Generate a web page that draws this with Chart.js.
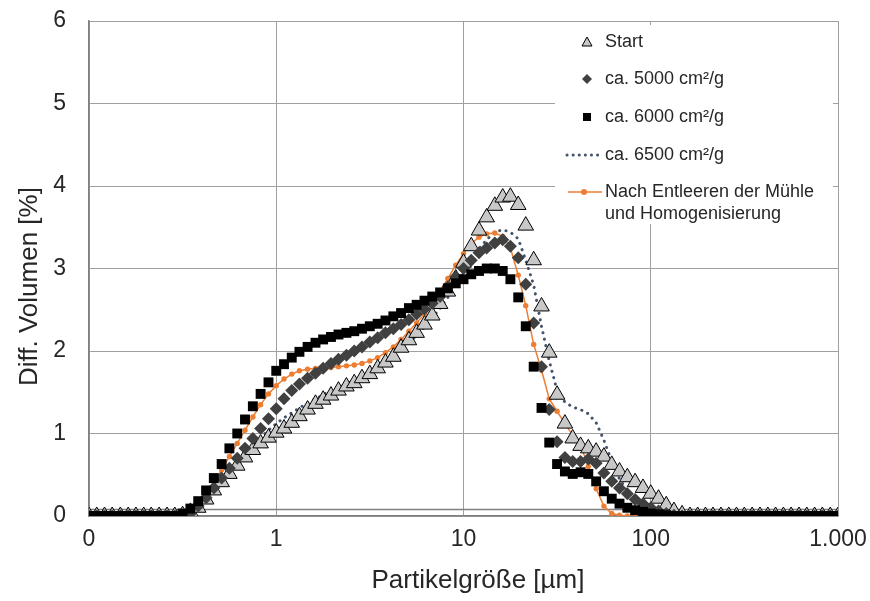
<!DOCTYPE html>
<html><head><meta charset="utf-8">
<script src="https://cdn.jsdelivr.net/npm/chart.js@4/dist/chart.umd.min.js"></script>
<style>html,body{margin:0;padding:0;background:#fff}</style>
</head><body>
<canvas id="c" width="870" height="601"></canvas>
<script>
// Particle size classes [µm]
const sizes = [0.1,0.11,0.121,0.133,0.147,0.162,0.178,0.196,0.215,0.237,0.261,0.287,0.316,0.348,0.383,0.422,0.464,0.511,0.562,0.619,0.681,0.75,0.825,0.909,1,
1.1,1.21,1.33,1.47,1.62,1.78,1.96,2.15,2.37,2.61,2.87,3.16,3.48,3.83,4.22,4.64,5.11,5.62,6.19,6.81,7.5,8.25,9.09,10,
11,12.1,13.3,14.7,16.2,17.8,19.6,21.5,23.7,26.1,28.7,31.6,34.8,38.3,42.2,46.4,51.1,56.2,61.9,68.1,75,82.5,90.9,100,
110,121,133,147,162,178,196,215,237,261,287,316,348,383,422,464,511,562,619,681,750,825,909,1000];

const startVals = [0,0,0,0,0,0,0,0,0,0,0,0,
0.01,0.05,0.10,0.20,0.31,0.41,0.51,0.61,0.71,0.80,0.88,0.95,1.01,
1.06,1.13,1.21,1.29,1.36,1.41,1.46,1.52,1.57,1.61,1.67,1.72,1.79,1.86,1.93,2.04,2.13,2.22,2.32,2.43,2.57,2.72,2.88,3.07,
3.27,3.46,3.62,3.76,3.86,3.87,3.77,3.52,3.10,2.54,1.98,1.47,1.12,0.94,0.85,0.82,0.78,0.72,0.62,0.54,0.47,0.41,0.34,0.27,
0.21,0.13,0.06,0.02,0,0,0,0,0,0,0,0,0,0,0,0,0,0,0,0,0,0,0,0];

const v5000 = [0,0,0,0,0,0,0,0,0,0,0,0,0,
0.03,0.12,0.22,0.34,0.46,0.58,0.70,0.82,0.94,1.06,1.18,1.30,
1.42,1.52,1.60,1.67,1.73,1.79,1.85,1.90,1.95,2.00,2.05,2.11,2.16,2.22,2.27,2.32,2.38,2.45,2.51,2.58,2.66,2.78,2.90,3.00,
3.10,3.19,3.25,3.31,3.35,3.27,3.13,2.81,2.34,1.81,1.29,0.90,0.71,0.66,0.66,0.69,0.64,0.52,0.42,0.34,0.27,0.20,0.15,0.10,
0.06,0.03,0.01,0,0,0,0,0,0,0,0,0,0,0,0,0,0,0,0,0,0,0,0,0];

const v6000 = [0,0,0,0,0,0,0,0,0,0,0,0,
0.03,0.09,0.18,0.31,0.46,0.63,0.82,1.00,1.17,1.33,1.48,1.62,1.76,
1.84,1.92,1.99,2.05,2.10,2.14,2.17,2.20,2.22,2.24,2.27,2.30,2.33,2.37,2.42,2.46,2.52,2.56,2.61,2.66,2.71,2.76,2.82,2.87,
2.93,2.97,3.00,3.00,2.97,2.87,2.65,2.30,1.81,1.31,0.89,0.63,0.54,0.51,0.53,0.51,0.42,0.30,0.21,0.15,0.10,0.07,0.05,0.03,
0.02,0.01,0,0,0,0,0,0,0,0,0,0,0,0,0,0,0,0,0,0,0,0,0,0];

const v6500 = [0,0,0,0,0,0,0,0,0,0,0,0,0,
0.03,0.11,0.21,0.32,0.43,0.54,0.65,0.76,0.86,0.95,1.04,1.12,
1.19,1.25,1.31,1.37,1.42,1.47,1.52,1.56,1.60,1.65,1.70,1.75,1.81,1.87,1.94,2.02,2.10,2.19,2.29,2.40,2.52,2.65,2.80,2.95,
3.10,3.24,3.35,3.44,3.47,3.44,3.36,3.10,2.80,2.30,1.88,1.52,1.38,1.32,1.29,1.24,1.13,0.92,0.66,0.45,0.30,0.18,0.10,0.05,
0.02,0,0,0,0,0,0,0,0,0,0,0,0,0,0,0,0,0,0,0,0,0,0,0];

const vNach = [0,0,0,0,0,0,0,0,0,0,0,0,
0.01,0.06,0.15,0.27,0.41,0.56,0.72,0.88,1.04,1.20,1.35,1.48,1.58,
1.66,1.72,1.76,1.78,1.79,1.80,1.80,1.81,1.82,1.83,1.85,1.88,1.92,1.98,2.05,2.14,2.24,2.34,2.45,2.57,2.72,2.88,3.04,3.18,
3.30,3.38,3.42,3.43,3.39,3.25,2.92,2.55,2.08,1.77,1.42,1.27,1.12,0.98,0.86,0.60,0.33,0.12,0.03,0.01,0,0,0,0,
0,0,0,0,0,0,0,0,0,0,0,0,0,0,0,0,0,0,0,0,0,0,0,0];

const seriesNames = ['Start','ca. 5000 cm²/g','ca. 6000 cm²/g','ca. 6500 cm²/g','Nach Entleeren der Mühle und Homogenisierung'];
const legendLines = [['Start'],['ca. 5000 cm²/g'],['ca. 6000 cm²/g'],['ca. 6500 cm²/g'],['Nach Entleeren der Mühle','und Homogenisierung']];
const xTickValues = [0.1,1,10,100,1000];
const xTickLabels = ['0','1','10','100','1.000'];
const yTickValues = [0,1,2,3,4,5,6];
const xTitle = '    Partikelgröße [µm]';
const yTitle = 'Diff. Volumen [%]     ';
const refLineValue = 0.09;

const FONT = '"Liberation Sans", Arial, Helvetica, sans-serif';
const TXT = '#262626';
function pts(vals){ return vals.map((v,i)=>({x:sizes[i], y:v})); }

const refLinePlugin = {
  id:'refLine',
  beforeDatasetsDraw(chart){
    const {ctx, chartArea:a, scales:{y}} = chart;
    const py = Math.round(y.getPixelForValue(refLineValue)) + 0.5;
    ctx.save();
    ctx.strokeStyle = '#7f7f7f'; ctx.lineWidth = 1.5;
    ctx.beginPath(); ctx.moveTo(a.left, py); ctx.lineTo(a.right, py); ctx.stroke();
    ctx.restore();
  }
};

const legendPlugin = {
  id:'customLegend',
  afterDraw(chart){
    const ctx = chart.ctx;
    const a = chart.chartArea;
    const L = a.right - 283, T = a.top + 4;
    ctx.save();
    ctx.fillStyle = '#fff';
    ctx.fillRect(L, T, 278, 199);
    const mx = L + 32, tx = L + 50;
    const rows = [T+17, T+54, T+92, T+130, T+167];
    let y = rows[0];
    ctx.fillStyle = '#c8c8c8'; ctx.strokeStyle = '#000'; ctx.lineWidth = 1;
    ctx.beginPath(); ctx.moveTo(mx, y-5); ctx.lineTo(mx+5, y+4); ctx.lineTo(mx-5, y+4); ctx.closePath(); ctx.fill(); ctx.stroke();
    y = rows[1];
    ctx.fillStyle = '#404040';
    ctx.beginPath(); ctx.moveTo(mx, y-5); ctx.lineTo(mx+5, y); ctx.lineTo(mx, y+5); ctx.lineTo(mx-5, y); ctx.closePath(); ctx.fill();
    y = rows[2];
    ctx.fillStyle = '#000'; ctx.fillRect(mx-4, y-4, 8, 8);
    y = rows[3];
    ctx.strokeStyle = '#44546A'; ctx.lineWidth = 3; ctx.lineCap = 'round'; ctx.setLineDash([0.1, 6]);
    ctx.beginPath(); ctx.moveTo(mx-20, y); ctx.lineTo(mx+14, y); ctx.stroke();
    ctx.setLineDash([]); ctx.lineCap = 'butt';
    y = rows[4];
    ctx.strokeStyle = '#ED7D31'; ctx.lineWidth = 1.5;
    ctx.beginPath(); ctx.moveTo(mx-19, y); ctx.lineTo(mx+15, y); ctx.stroke();
    ctx.fillStyle = '#ED7D31'; ctx.beginPath(); ctx.arc(mx-3, y, 3, 0, Math.PI*2); ctx.fill();
    ctx.fillStyle = TXT; ctx.font = '18px ' + FONT; ctx.textBaseline = 'middle'; ctx.textAlign = 'left';
    legendLines.forEach((lines, i) => {
      lines.forEach((t, j) => ctx.fillText(t, tx, rows[i] + j*22));
    });
    ctx.restore();
  }
};

new Chart(document.getElementById('c'), {
  type: 'line',
  data: { datasets: [
    { label: seriesNames[2], data: pts(v6000), showLine:false, pointStyle:'rect', pointRadius:7, pointHoverRadius:7,
      backgroundColor:'#000', borderColor:'#000', pointBorderWidth:0, order:1 },
    { label: seriesNames[1], data: pts(v5000), showLine:false, pointStyle:'rectRot', pointRadius:6.5, pointHoverRadius:6.5,
      backgroundColor:'#404040', borderColor:'#404040', pointBorderWidth:0, order:2 },
    { label: seriesNames[0], data: pts(startVals), showLine:false, pointStyle:'triangle', pointRadius:9, pointHoverRadius:9,
      backgroundColor:'#c8c8c8', borderColor:'#000', pointBorderWidth:1, order:3 },
    { label: seriesNames[4], data: pts(vNach), borderColor:'#ED7D31', backgroundColor:'#ED7D31', borderWidth:1.5,
      pointStyle:'circle', pointRadius:2.7, pointBorderWidth:0, tension:0, order:4 },
    { label: seriesNames[3], data: pts(v6500), borderColor:'#44546A', borderWidth:3, borderDash:[0.1,6.5], borderCapStyle:'round',
      pointRadius:0, tension:0, order:5 }
  ]},
  options: {
    responsive:false, animation:false, devicePixelRatio:1,
    layout:{ padding:{ left:0, right:32, top:21, bottom:0 } },
    plugins:{ legend:{display:false}, tooltip:{enabled:false} },
    scales:{
      x:{ type:'logarithmic', min:0.1, max:1000,
        afterBuildTicks:(s)=>{ s.ticks = xTickValues.map(v=>({value:v})); },
        ticks:{ callback:(v,i)=>xTickLabels[i], font:{family:FONT,size:23}, color:TXT, padding:10, maxRotation:0, autoSkip:false },
        grid:{ color:'#a0a0a0', lineWidth:1, drawTicks:false },
        border:{ display:true, color:'#7f7f7f', width:1.5 },
        title:{ display:true, text:xTitle, font:{family:FONT,size:26}, color:TXT, padding:{top:0,bottom:5} },
        afterFit:(s)=>{ s.height = 85; s.paddingLeft = 0; s.paddingRight = 0; }
      },
      y:{ min:0, max:6,
        afterBuildTicks:(s)=>{ s.ticks = yTickValues.map(v=>({value:v})); },
        ticks:{ font:{family:FONT,size:23}, color:TXT, padding:23 },
        grid:{ color:'#a0a0a0', lineWidth:1, drawTicks:false },
        border:{ display:true, color:'#7f7f7f', width:1.5 },
        title:{ display:true, text:yTitle, font:{family:FONT,size:26}, color:TXT, padding:{top:14,bottom:0} },
        afterFit:(s)=>{ s.width = 89; s.paddingTop = 0; s.paddingBottom = 0; }
      }
    }
  },
  plugins:[refLinePlugin, legendPlugin]
});
</script>
</body></html>
